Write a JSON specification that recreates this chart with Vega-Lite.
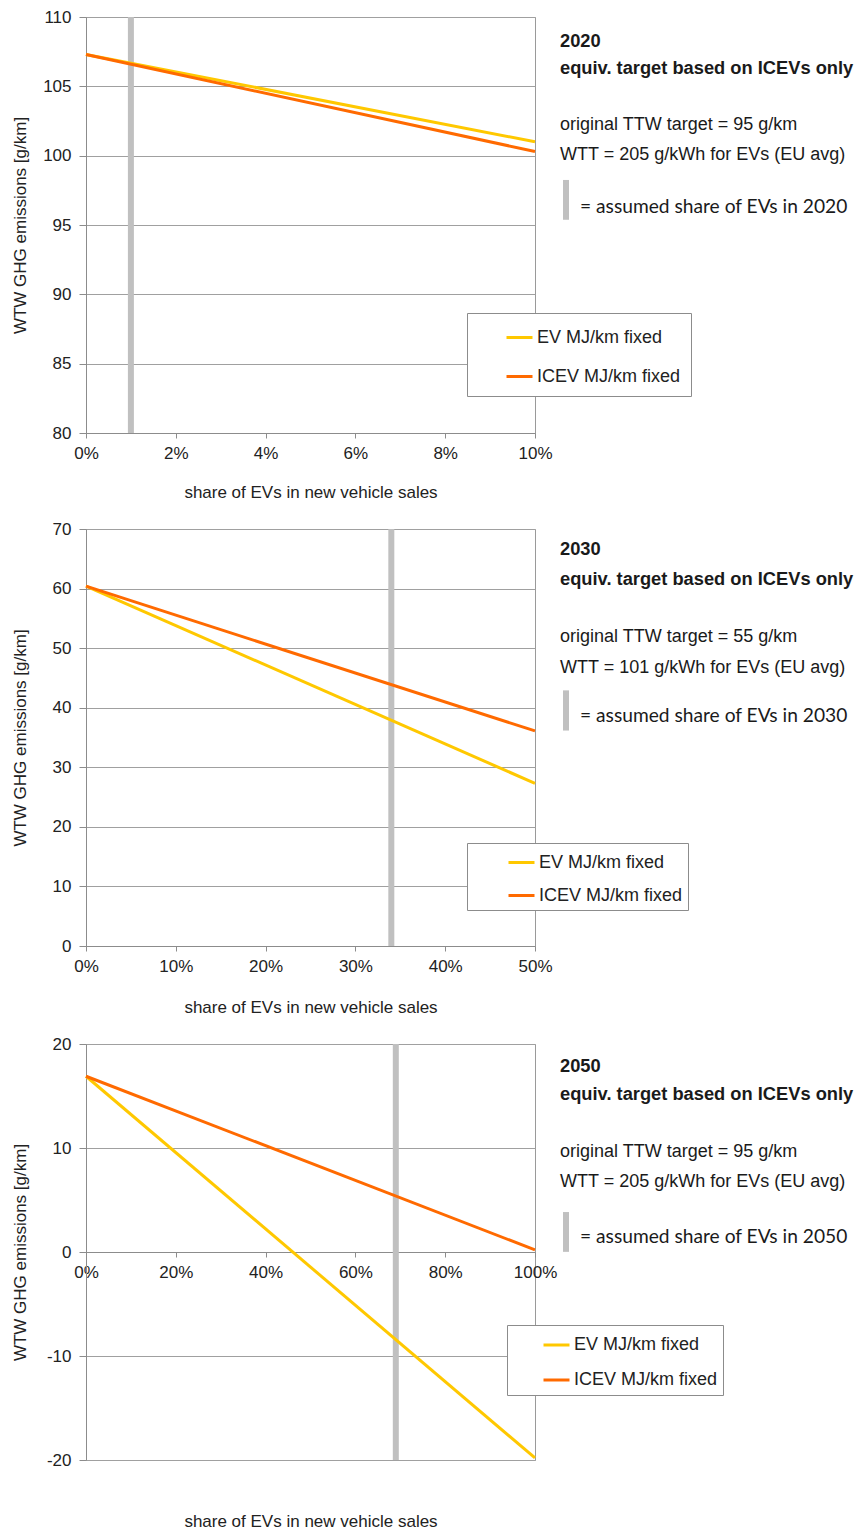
{
  "$schema": "https://vega.github.io/schema/vega-lite/v6.json",
  "padding": {"left": 10, "top": 7, "right": 0, "bottom": 0},
  "background": "white",
  "config": {
    "font": "Liberation Sans",
    "view": {"stroke": "#9a9a9a", "strokeWidth": 1},
    "axis": {
      "labelFont": "Liberation Sans",
      "labelFontSize": 17,
      "labelColor": "#222222",
      "titleFont": "Liberation Sans",
      "titleFontSize": 17,
      "titleFontWeight": "normal",
      "titleColor": "#222222",
      "domainColor": "#8c8c8c",
      "tickColor": "#8c8c8c",
      "gridColor": "#a0a0a0",
      "gridOpacity": 1
    },
    "axisY": {"grid": true, "tickSize": 7, "labelPadding": 8, "titleX": -66, "titleBaseline": "middle"},
    "axisX": {"grid": false, "tickSize": 5, "labelPadding": 7, "labelFlush": false, "titleBaseline": "middle", "titleY": 59},
    "legend": {
      "orient": "none",
      "labelFont": "Liberation Sans",
      "labelFontSize": 18,
      "labelColor": "#222222",
      "symbolType": "stroke",
      "symbolSize": 676,
      "symbolStrokeWidth": 3,
      "labelOffset": 3,
      "strokeColor": "#8c8c8c",
      "fillColor": "white",
      "padding": 10,
      "symbolOffset": 28
    },
    "text": {"font": "Liberation Sans", "fontSize": 18, "color": "#1a1a1a", "align": "left", "baseline": "middle"}
  },
  "datasets": {
    "lines2020": [
      {"share": 0, "series": "EV MJ/km fixed", "ghg": 107.3},
      {"share": 0.1, "series": "EV MJ/km fixed", "ghg": 101.0},
      {"share": 0, "series": "ICEV MJ/km fixed", "ghg": 107.3},
      {"share": 0.1, "series": "ICEV MJ/km fixed", "ghg": 100.3}
    ],
    "lines2030": [
      {"share": 0, "series": "EV MJ/km fixed", "ghg": 60.4},
      {"share": 0.5, "series": "EV MJ/km fixed", "ghg": 27.3},
      {"share": 0, "series": "ICEV MJ/km fixed", "ghg": 60.4},
      {"share": 0.5, "series": "ICEV MJ/km fixed", "ghg": 36.1}
    ],
    "lines2050": [
      {"share": 0, "series": "EV MJ/km fixed", "ghg": 16.9},
      {"share": 1, "series": "EV MJ/km fixed", "ghg": -19.8},
      {"share": 0, "series": "ICEV MJ/km fixed", "ghg": 16.9},
      {"share": 1, "series": "ICEV MJ/km fixed", "ghg": 0.2}
    ],
    "assumed": [
      {"year": 2020, "share": 0.01},
      {"year": 2030, "share": 0.34},
      {"year": 2050, "share": 0.69}
    ],
    "notes": [
      {"year": 2020, "kind": "head", "row": 1, "col": 0.5, "label": "2020"},
      {"year": 2020, "kind": "head", "row": 1.95, "col": 0.5, "label": "equiv. target based on ICEVs only"},
      {"year": 2020, "kind": "body", "row": 3.95, "col": 0.5, "label": "original TTW target = 95 g/km"},
      {"year": 2020, "kind": "body", "row": 5, "col": 0.5, "label": "WTT = 205 g/kWh for EVs (EU avg)"},
      {"year": 2020, "kind": "key", "row": 6.85, "col": 2.5, "label": "= assumed share of EVs in 2020"},
      {"year": 2030, "kind": "head", "row": 0.86, "col": 0.5, "label": "2030"},
      {"year": 2030, "kind": "head", "row": 1.92, "col": 0.5, "label": "equiv. target based on ICEVs only"},
      {"year": 2030, "kind": "body", "row": 3.94, "col": 0.5, "label": "original TTW target = 55 g/km"},
      {"year": 2030, "kind": "body", "row": 5.04, "col": 0.5, "label": "WTT = 101 g/kWh for EVs (EU avg)"},
      {"year": 2030, "kind": "key", "row": 6.74, "col": 2.5, "label": "= assumed share of EVs in 2030"},
      {"year": 2050, "kind": "head", "row": 0.93, "col": 0.5, "label": "2050"},
      {"year": 2050, "kind": "head", "row": 1.92, "col": 0.5, "label": "equiv. target based on ICEVs only"},
      {"year": 2050, "kind": "body", "row": 3.94, "col": 0.5, "label": "original TTW target = 95 g/km"},
      {"year": 2050, "kind": "body", "row": 5, "col": 0.5, "label": "WTT = 205 g/kWh for EVs (EU avg)"},
      {"year": 2050, "kind": "key", "row": 6.95, "col": 2.5, "label": "= assumed share of EVs in 2050"}
    ],
    "keybar": [
      {"year": 2020, "col": 1.1, "top": 5.89, "bottom": 7.3},
      {"year": 2030, "col": 1.1, "top": 5.82, "bottom": 7.24},
      {"year": 2050, "col": 1.1, "top": 6.07, "bottom": 7.48}
    ]
  },
  "vconcat": [
    {
      "hconcat": [
        {
          "width": 449,
          "height": 416,
          "layer": [
            {
              "data": {"name": "assumed"},
              "transform": [{"filter": "datum.year == 2020"}],
              "mark": {"type": "rule", "color": "#c0c0c0", "strokeWidth": 6},
              "encoding": {"x": {"field": "share", "type": "quantitative"}}
            },
            {
              "data": {"name": "lines2020"},
              "mark": {"type": "line", "strokeWidth": 3},
              "encoding": {
                "x": {
                  "field": "share", "type": "quantitative",
                  "scale": {"domain": [0, 0.1], "nice": false},
                  "axis": {"values": [0, 0.02, 0.04, 0.06, 0.08, 0.1], "format": ".0%", "title": "share of EVs in new vehicle sales"}
                },
                "y": {
                  "field": "ghg", "type": "quantitative",
                  "scale": {"domain": [80, 110], "nice": false, "zero": false},
                  "axis": {"values": [80, 85, 90, 95, 100, 105, 110], "title": "WTW GHG emissions [g/km]"}
                },
                "color": {
                  "field": "series", "type": "nominal",
                  "scale": {"domain": ["EV MJ/km fixed", "ICEV MJ/km fixed"], "range": ["#ffc800", "#ff6a00"]},
                  "legend": {"title": null, "legendX": 381, "legendY": 296, "rowPadding": 15}
                }
              }
            }
          ]
        },
        {
          "width": 300,
          "height": 416,
          "view": {"stroke": null},
          "data": {"name": "notes"},
          "transform": [{"filter": "datum.year == 2020"}],
          "encoding": {
            "x": {"field": "col", "type": "quantitative", "scale": {"domain": [0, 30]}, "axis": null},
            "y": {"field": "row", "type": "quantitative", "scale": {"domain": [14.85, 0.12], "nice": false, "zero": false}, "axis": null},
            "text": {"field": "label"}
          },
          "layer": [
            {"transform": [{"filter": "datum.kind == 'head'"}], "mark": {"type": "text", "fontWeight": "bold", "fontSize": 18.3}},
            {"transform": [{"filter": "datum.kind == 'body'"}], "mark": {"type": "text"}},
            {"transform": [{"filter": "datum.kind == 'key'"}], "mark": {"type": "text", "font": "Lato", "fontSize": 19.2}},
            {
              "data": {"name": "keybar"},
              "transform": [{"filter": "datum.year == 2020"}],
              "mark": {"type": "rule", "color": "#c0c0c0", "strokeWidth": 6},
              "encoding": {
                "x": {"field": "col", "type": "quantitative"},
                "y": {"field": "top", "type": "quantitative"},
                "y2": {"field": "bottom"},
                "text": null
              }
            }
          ]
        }
      ],
      "spacing": 20,
      "bounds": "flush"
    },
    {
      "hconcat": [
        {
          "width": 449,
          "height": 417,
          "layer": [
            {
              "data": {"name": "assumed"},
              "transform": [{"filter": "datum.year == 2030"}],
              "mark": {"type": "rule", "color": "#c0c0c0", "strokeWidth": 6},
              "encoding": {"x": {"field": "share", "type": "quantitative"}}
            },
            {
              "data": {"name": "lines2030"},
              "mark": {"type": "line", "strokeWidth": 3},
              "encoding": {
                "x": {
                  "field": "share", "type": "quantitative",
                  "scale": {"domain": [0, 0.5], "nice": false},
                  "axis": {"values": [0, 0.1, 0.2, 0.3, 0.4, 0.5], "format": ".0%", "title": "share of EVs in new vehicle sales", "titleY": 61}
                },
                "y": {
                  "field": "ghg", "type": "quantitative",
                  "scale": {"domain": [0, 70], "nice": false},
                  "axis": {"values": [0, 10, 20, 30, 40, 50, 60, 70], "title": "WTW GHG emissions [g/km]"}
                },
                "color": {
                  "field": "series", "type": "nominal",
                  "scale": {"domain": ["EV MJ/km fixed", "ICEV MJ/km fixed"], "range": ["#ffc800", "#ff6a00"]},
                  "legend": {"title": null, "legendX": 381, "legendY": 314, "rowPadding": 9, "padding": 5, "symbolOffset": 35}
                }
              }
            }
          ]
        },
        {
          "width": 300,
          "height": 417,
          "view": {"stroke": null},
          "data": {"name": "notes"},
          "transform": [{"filter": "datum.year == 2030"}],
          "encoding": {
            "x": {"field": "col", "type": "quantitative", "scale": {"domain": [0, 30]}, "axis": null},
            "y": {"field": "row", "type": "quantitative", "scale": {"domain": [14.85, 0.12], "nice": false, "zero": false}, "axis": null},
            "text": {"field": "label"}
          },
          "layer": [
            {"transform": [{"filter": "datum.kind == 'head'"}], "mark": {"type": "text", "fontWeight": "bold", "fontSize": 18.3}},
            {"transform": [{"filter": "datum.kind == 'body'"}], "mark": {"type": "text"}},
            {"transform": [{"filter": "datum.kind == 'key'"}], "mark": {"type": "text", "font": "Lato", "fontSize": 19.2}},
            {
              "data": {"name": "keybar"},
              "transform": [{"filter": "datum.year == 2030"}],
              "mark": {"type": "rule", "color": "#c0c0c0", "strokeWidth": 6},
              "encoding": {
                "x": {"field": "col", "type": "quantitative"},
                "y": {"field": "top", "type": "quantitative"},
                "y2": {"field": "bottom"},
                "text": null
              }
            }
          ]
        }
      ],
      "spacing": 20,
      "bounds": "flush"
    },
    {
      "hconcat": [
        {
          "width": 449,
          "height": 416,
          "layer": [
            {
              "data": {"name": "assumed"},
              "transform": [{"filter": "datum.year == 2050"}],
              "mark": {"type": "rule", "color": "#c0c0c0", "strokeWidth": 6},
              "encoding": {"x": {"field": "share", "type": "quantitative"}}
            },
            {
              "data": {"name": "lines2050"},
              "mark": {"type": "line", "strokeWidth": 3},
              "encoding": {
                "x": {
                  "field": "share", "type": "quantitative",
                  "scale": {"domain": [0, 1], "nice": false},
                  "axis": {"values": [0, 0.2, 0.4, 0.6, 0.8, 1], "format": ".0%", "title": "share of EVs in new vehicle sales", "offset": -208, "titleY": 269}
                },
                "y": {
                  "field": "ghg", "type": "quantitative",
                  "scale": {"domain": [-20, 20], "nice": false, "zero": false},
                  "axis": {
                    "values": [-20, -10, 0, 10, 20],
                    "labelExpr": "datum.value < 0 ? '-' + abs(datum.value) : '' + datum.value",
                    "title": "WTW GHG emissions [g/km]"
                  }
                },
                "color": {
                  "field": "series", "type": "nominal",
                  "scale": {"domain": ["EV MJ/km fixed", "ICEV MJ/km fixed"], "range": ["#ffc800", "#ff6a00"]},
                  "legend": {"title": null, "legendX": 421, "legendY": 281, "rowPadding": 11, "padding": 5.5, "symbolOffset": 29.5}
                }
              }
            }
          ]
        },
        {
          "width": 300,
          "height": 416,
          "view": {"stroke": null},
          "data": {"name": "notes"},
          "transform": [{"filter": "datum.year == 2050"}],
          "encoding": {
            "x": {"field": "col", "type": "quantitative", "scale": {"domain": [0, 30]}, "axis": null},
            "y": {"field": "row", "type": "quantitative", "scale": {"domain": [14.85, 0.12], "nice": false, "zero": false}, "axis": null},
            "text": {"field": "label"}
          },
          "layer": [
            {"transform": [{"filter": "datum.kind == 'head'"}], "mark": {"type": "text", "fontWeight": "bold", "fontSize": 18.3}},
            {"transform": [{"filter": "datum.kind == 'body'"}], "mark": {"type": "text"}},
            {"transform": [{"filter": "datum.kind == 'key'"}], "mark": {"type": "text", "font": "Lato", "fontSize": 19.2}},
            {
              "data": {"name": "keybar"},
              "transform": [{"filter": "datum.year == 2050"}],
              "mark": {"type": "rule", "color": "#c0c0c0", "strokeWidth": 6},
              "encoding": {
                "x": {"field": "col", "type": "quantitative"},
                "y": {"field": "top", "type": "quantitative"},
                "y2": {"field": "bottom"},
                "text": null
              }
            }
          ]
        }
      ],
      "spacing": 20,
      "bounds": "flush"
    }
  ],
  "spacing": 18,
  "resolve": {
    "scale": {"color": "independent", "x": "independent", "y": "independent"},
    "legend": {"color": "independent"}
  }
}
